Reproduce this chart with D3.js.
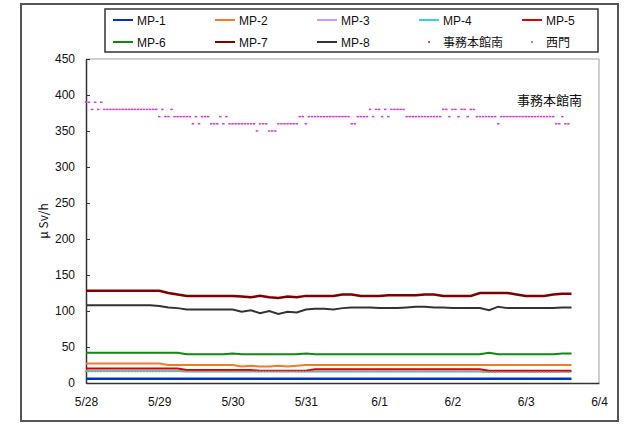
<!DOCTYPE html>
<html><head><meta charset="utf-8">
<script src="https://cdn.jsdelivr.net/npm/d3@7"></script>
<style>
body{margin:0;background:#fff}
svg{display:block}
text{font-family:"Liberation Sans",Arial,sans-serif}
.jp{font-family:"Noto Sans CJK JP","Liberation Sans",sans-serif}
</style>
</head><body>
<svg id="c" width="640" height="426"></svg>
<script>
// ---- tick labels / categories ----
const dateLabels = ["5/28","5/29","5/30","5/31","6/1","6/2","6/3","6/4"];
const yTicks = [0,50,100,150,200,250,300,350,400,450];
const yTitle = "μ Sv/h";
const annotation = "事務本館南";

// ---- line series (3-hour readings from 5/28 0:00) ----
const lineNames  = ["MP-1","MP-2","MP-3","MP-4","MP-5","MP-6","MP-7","MP-8"];
const lineColors = ["#0033CC","#F47A2A","#CC99FF","#33D6D6","#E00000","#118811","#800000","#333333"];

const mp1 = [6,6,6,6,6,6,6,6,6,6,6,6,6,6,6,6,6,6,6,6,6,6,6,6,6,6,6,
             6,6,6,6,6,6,6,6,6,6,6,6,6,6,6,6,6,6,6,6,6,6,6,6,6,6,6];
const mp2 = [27,27,27,27,27,27,27,27,27,25,25,25,25,25,25,25,25,23,24,23,23,24,23,24,
             25,25,25,25,25,25,25,25,25,25,25,25,25,25,25,25,25,25,25,25,25,25,25,25,25,25,25,25,25,25];
const mp3 = [];
const mp4 = [17,17,17,17,17,17,17,17,17,17,17,16,16,16,16,16,16,16,16,16,16,16,16,16,16,16,16,
             16,16,16,16,16,16,16,16,16,16,16,16,16,16,16,16,16,16,16,16,16,16,16,16,16,16,16];
const mp5 = [20,20,20,20,20,20,20,20,20,20,20,18,18,18,18,18,18,18,18,17,17,17,17,17,17,
             19,19,19,19,19,19,19,19,19,19,19,19,19,19,19,19,19,19,19,17,17,17,17,17,17,17,17,17,17];
const mp6 = [42,42,42,42,42,42,42,42,42,42,42,40,40,40,40,40,41,40,40,40,40,40,40,40,41,
             40,40,40,40,40,40,40,40,40,40,40,40,40,40,40,40,40,40,40,42,40,40,40,40,40,40,40,41,41];
const mp7 = [128,128,128,128,128,128,128,128,128,125,123,121,121,121,121,121,121,
             120,119,121,119,118,120,119,121,121,121,121,123,123,121,121,121,
             122,122,122,122,123,123,121,121,121,121,125,125,125,125,123,121,121,121,123,124,124];
const mp8 = [108,108,108,108,108,108,108,108,107,105,104,102,102,102,102,102,102,
             99,101,97,100,96,99,98,102,103,103,102,104,105,105,105,104,104,104,
             105,106,106,105,105,104,104,104,104,101,106,104,104,104,104,104,104,105,105];
const lineData = [mp1,mp2,mp3,mp4,mp5,mp6,mp7,mp8];

// ---- point series (hourly readings from 5/28 0:00) ----
const dotNames  = ["事務本館南","西門"];
const dotColors = ["#D03CD0","#9A9A9A"];
const jimu = [
 390,390,380,390,380,390,380,380,380,380,380,380,380,380,380,380,380,380,380,380,380,380,380,380,
 370,380,370,370,380,370,370,370,370,370,370,360,370,360,370,370,370,360,360,360,370,360,370,360,
 360,360,360,360,360,360,360,360,350,360,360,360,350,350,350,360,360,360,360,360,360,360,370,370,
 360,370,370,370,370,370,370,370,370,370,370,370,370,370,370,360,360,370,370,370,370,380,370,380,
 380,370,380,370,380,380,380,380,380,370,370,370,370,370,370,370,370,370,370,370,370,380,380,370,
 380,380,370,380,380,370,380,380,370,370,370,370,370,370,370,360,370,370,370,370,370,370,370,370,
 370,370,370,370,370,370,370,370,370,370,360,360,370,360,360];
const nishimon = [
 16,16,16,16,16,16,16,16,16,16,16,16,16,16,16,16,16,16,16,16,16,16,16,16,
 16,16,16,16,16,16,16,16,16,16,16,16,16,16,16,16,16,16,16,16,16,16,16,16,
 16,16,16,16,16,16,16,16,16,16,16,16,16,16,16,16,16,16,16,16,16,16,16,16,
 16,16,16,16,16,16,16,16,16,16,16,16,16,16,16,16,16,16,16,16,16,16,16,16,
 16,16,16,16,16,16,16,16,16,16,16,16,16,16,16,16,16,16,16,16,16,16,16,16,
 16,16,16,16,16,16,16,16,16,16,15,15,15,15,15,15,15,15,15,15,15,15,15,15,
 15,15,15,15,15,15,15,15,15,15,15,15,15,15,15];
const dotData = [jimu, nishimon];

// ---- drawing ----
const svg = d3.select("#c");
const plot = {l:86, r:599, t:59, b:383};
const t0 = Date.UTC(2011,4,28), HOUR = 3600e3;
const tEnd = Date.UTC(2011,5,4);

const x = d3.scaleUtc().domain([new Date(t0), new Date(tEnd)]).range([plot.l, plot.r]);
const y = d3.scaleLinear().domain([0,450]).range([plot.b, plot.t]);

// outer frame
svg.append("rect").attr("x",21).attr("y",4).attr("width",597).attr("height",417)
  .attr("fill","#fff").attr("stroke","#555").attr("stroke-width",2);

// plot area border (top/right grey)
svg.append("path").attr("d",`M${plot.l},${plot.t}H${plot.r}V${plot.b}`)
  .attr("fill","none").attr("stroke","#a0a0a0").attr("stroke-width",1);

// y axis
const yAxis = d3.axisLeft(y).tickValues(yTicks).tickSize(-4).tickSizeOuter(0).tickPadding(11);
const gy = svg.append("g").attr("transform",`translate(${plot.l},0)`).call(yAxis);
gy.select(".domain").attr("stroke","#333").attr("stroke-width",1.5);
gy.selectAll(".tick line").attr("stroke","#333");
gy.selectAll("text").attr("font-size",12).attr("fill","#111")
  .style("font-family",'"Liberation Sans",Arial,sans-serif');

// x axis
const dayTicks = d3.utcDay.range(new Date(t0), new Date(tEnd + HOUR));
const xAxis = d3.axisBottom(x).tickValues(dayTicks).tickSize(0).tickSizeOuter(0).tickPadding(14)
  .tickFormat((d,i) => dateLabels[i]);
const gx = svg.append("g").attr("transform",`translate(0,${plot.b})`).call(xAxis);
gx.select(".domain").attr("stroke","#333").attr("stroke-width",1.5);
gx.selectAll("text").attr("font-size",12).attr("fill","#111")
  .style("font-family",'"Liberation Sans",Arial,sans-serif');

// y title
svg.append("text").attr("class","jp").attr("transform","translate(48,221) rotate(-90)")
  .attr("text-anchor","middle").attr("font-size",12).attr("fill","#111").text(yTitle);

// lines
const line = d3.line().x(d => x(d.t)).y(d => y(d.v));
lineData.forEach((arr, k) => {
  if (!arr.length) return;
  const pts = arr.map((v,i) => ({t:new Date(t0 + i*3*HOUR), v}));
  svg.append("path").datum(pts).attr("d", line).attr("fill","none")
    .attr("stroke", lineColors[k]).attr("stroke-width", (k===0||k===6) ? 2.5 : 2)
    .attr("stroke-linejoin","miter");
});

// dots
dotData.forEach((arr, k) => {
  svg.append("g").selectAll("rect").data(arr).join("rect")
    .attr("x", (v,i) => x(new Date(t0 + i*HOUR)) - 1.25)
    .attr("y", v => y(v) - 0.75)
    .attr("width", 2.5).attr("height", 1.5)
    .attr("fill", dotColors[k]);
});

// annotation
svg.append("text").attr("class","jp").attr("x",517).attr("y",105)
  .attr("font-size",13).attr("fill","#111").text(annotation);

// legend
svg.append("rect").attr("x",105).attr("y",9).attr("width",493).attr("height",43)
  .attr("fill","#fff").attr("stroke","#333").attr("stroke-width",1.5);
const legendItems = lineNames.map((n,i) => ({name:n, color:lineColors[i], type:"line"}))
  .concat(dotNames.map((n,i) => ({name:n, color:dotColors[i], type:"dot"})));
const colX = [113,215,317,419,522], rowY = [20,42];
legendItems.forEach((it, i) => {
  const cx = colX[i % 5], cy = rowY[Math.floor(i / 5)];
  if (it.type === "line") {
    svg.append("line").attr("x1",cx).attr("x2",cx+20).attr("y1",cy).attr("y2",cy)
      .attr("stroke",it.color).attr("stroke-width",2);
  } else {
    svg.append("rect").attr("x",cx+9).attr("y",cy-1).attr("width",2).attr("height",2)
      .attr("fill",it.color);
  }
  svg.append("text").attr("class", it.type === "dot" ? "jp" : null)
    .attr("x", cx + 24).attr("y", cy + 4.5).attr("font-size",12).attr("fill","#111")
    .text(it.name);
});
</script>
</body></html>
